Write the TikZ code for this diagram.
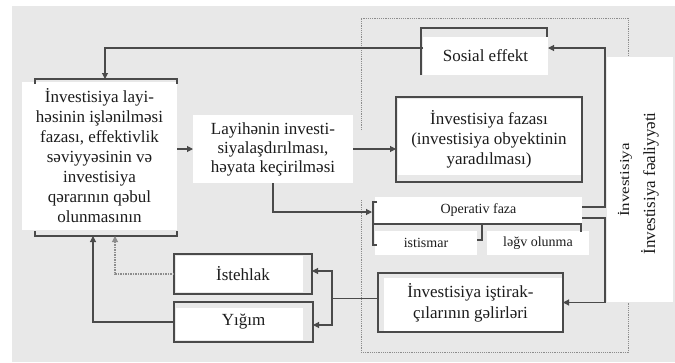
\documentclass[tikz,border=0pt]{standalone}
\usepackage{fontspec}
\setmainfont{Liberation Serif}
\usetikzlibrary{arrows.meta,calc}
\definecolor{bgc}{HTML}{E8E8E8}
\definecolor{lc}{HTML}{4A4A4A}
\definecolor{dc}{HTML}{8C8C8C}
\definecolor{txc}{HTML}{1C1C1C}
\begin{document}
\begin{tikzpicture}[x=1pt,y=-1pt,
  ln/.style={draw=lc,line width=1.1pt},
  arr/.style={ln,-{Triangle[length=6pt,width=6pt]}},
  dl/.style={draw=dc,line width=0.9pt,dash pattern=on 1.2pt off 1pt},
  dline/.style={draw=dc,dash pattern=on 1.5pt off 1pt},
  box/.style={inner sep=0pt,outer sep=0pt,align=center,text=txc},
  big/.style={font=\fontsize{17}{20}\selectfont},
  sml/.style={font=\fontsize{14}{16}\selectfont}]
\useasboundingbox (0,0) rectangle (675,362);
\fill[bgc] (12,6) rectangle (675,362);
% dotted frame
\draw[dl] (361,130) -- (361,18) -- (628,18) -- (628,352) -- (361,352) -- (361,200);
\coordinate (t) at (0,48);

% left box
\node[box,big,fill=white,minimum width=155pt,minimum height=148pt] (L) at (99.5,156)
  {İnvestisiya layi-\\həsinin işlənilməsi\\fazası, effektivlik\\səviyyəsinin və\\investisiya\\qərarının qəbul\\olunmasının};
\draw[ln] (35,84) -- (35,79) -- (177,79) -- (177,84);
\draw[ln] (35,231) -- (35,236) -- (177,236) -- (177,231);

% Layihenin
\node[box,font=\fontsize{17}{19}\selectfont,fill=white,minimum width=160pt,minimum height=68pt] (Ly) at (273,149)
  {Layihənin investi-\\siyalaşdırılması,\\həyata keçirilməsi};

% Investisiya fazasi
\fill[white] (398,99) rectangle (581,175);
\node[box,big,ln,minimum width=186pt,minimum height=85pt] (F) at (489,139.5)
  {İnvestisiya fazası\\(investisiya obyektinin\\yaradılması)};

% Sosial effekt
\node[box,big,fill=white,minimum width=125pt,minimum height=38pt] (S) at (485.5,56) {Sosial effekt};
\draw[ln] (421,75) -- (421,28) -- (547,28) -- (547,37);

% Operativ faza block
\node[box,sml,fill=white,minimum width=207pt,minimum height=26pt] (O) at (478.5,210) {Operativ faza};
\node[box,sml,fill=white,minimum width=102pt,minimum height=24pt] (I) at (426,243) {istismar};
\node[box,sml,fill=white,minimum width=102pt,minimum height=24pt] (G) at (538,243) {ləğv olunma};
\draw[ln] (377,202) -- (373,202) -- (373,245) -- (377,245);
\draw[ln] (373,224) -- (581,224) -- (581,232);
\draw[ln] (477,240) -- (482,240) -- (482,224);

% Investisiya istirakcilarinin gelirleri
\fill[white] (384,278) rectangle (562,331);
\node[box,font=\fontsize{17}{21}\selectfont,ln,minimum width=185pt,minimum height=59pt] (P) at (470.5,302.5)
  {İnvestisiya iştirak-\\çılarının gəlirləri};

% Istehlak, Yigim
\fill[white] (176,256) rectangle (303,292);
\node[box,big,ln,minimum width=138pt,minimum height=40pt] (E) at (243,274) {İstehlak};
\fill[white] (176,308) rectangle (303,340);
\node[box,big,ln,minimum width=139pt,minimum height=40pt] (Y) at (243.5,322) {Yığım};

% right panel
\node[box,fill=white,minimum width=66pt,minimum height=245pt] (R) at (640,179.5) {};
\node[box,rotate=90] (R1) at (625,180) {\scalebox{1}[0.8]{\fontsize{17}{20}\selectfont İnvestisiya}};
\node[box,rotate=90,font=\fontsize{17}{20}\selectfont] (R2) at (650,183.5) {İnvestisiya fəaliyyəti};

% connectors
\draw[arr] (S.west |- t) -| ($(L.north)+(5.5,-3)$);
\draw[arr] (L.east |- Ly.west) -- (Ly.west);
\draw[arr] (Ly.east) -- (Ly.east -| F.west);
\draw[arr] (Ly.south) |- ($(O.west)+(-3,2)$);
\draw[arr] ($(O.east)+(0,-3)$) -- ++(23,0) |- (S.east |- t);
\draw[arr] ($(O.east)+(0,8)$) -- ++(23,0) |- (P.east);
\draw[arr] ($(P.west)+(0,-4)$) -- ++(-46,0) |- ($(E.east)+(0,-3)$);
\draw[arr] ($(P.west)+(0,-4)$) -- ++(-46,0) |- ($(Y.east)+(0,3)$);
\draw[arr,dline] (E.west) -| ($(L.south)+(15.5,6)$);
\draw[arr] (Y.west) -| ($(L.south)+(-6.5,6)$);
\end{tikzpicture}
\end{document}
